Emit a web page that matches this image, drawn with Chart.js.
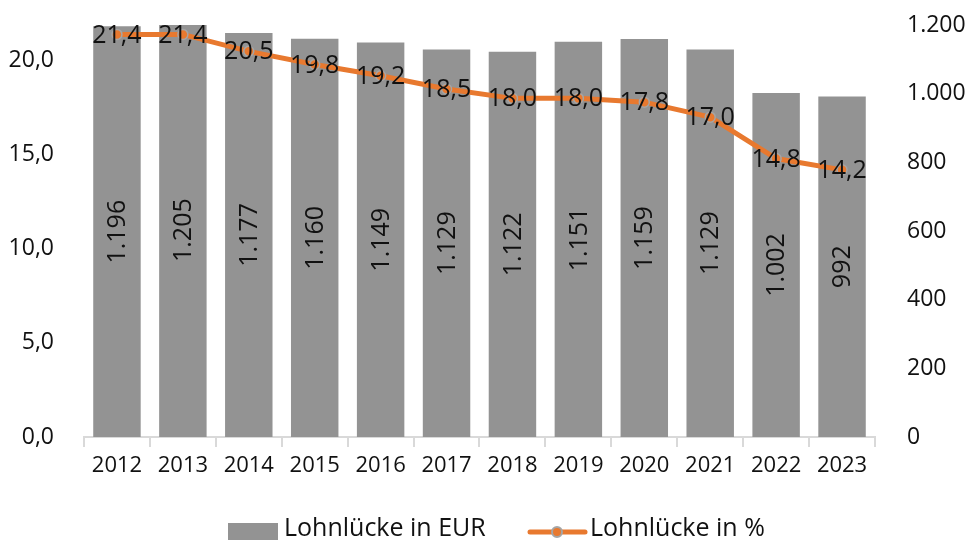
<!DOCTYPE html>
<html>
<head>
<meta charset="utf-8">
<script src="https://cdn.jsdelivr.net/npm/chart.js@4.4.1/dist/chart.umd.min.js"></script>
<style>
  html, body { margin: 0; padding: 0; background: #fff; }
  #wrap { width: 966px; height: 542px; }
</style>
</head>
<body>
<div id="wrap"><canvas id="chart" width="966" height="542"></canvas></div>
<script>
const years = ['2012', '2013', '2014', '2015', '2016', '2017', '2018', '2019', '2020', '2021', '2022', '2023'];
const gapEur = [1196, 1205, 1177, 1160, 1149, 1129, 1122, 1151, 1159, 1129, 1002, 992];
const gapPct = [21.4, 21.4, 20.5, 19.8, 19.2, 18.5, 18.0, 18.0, 17.8, 17.0, 14.8, 14.2];
const pctTicks = [0, 5, 10, 15, 20];
const eurTicks = [0, 200, 400, 600, 800, 1000, 1200];

const FONT = '"Open Sans", sans-serif';
const ORANGE = '#E8792F';
const GREY = '#939393';

const fmtPct = v => v.toFixed(1).replace('.', ',');
const fmtEur = v => v.toString().replace(/\B(?=(\d{3})+(?!\d))/g, '.');

// labels on bars (rotated) and on line points
const labelPlugin = {
    id: 'labels',
    afterDatasetsDraw(chart) {
        const ctx = chart.ctx;
        ctx.save();
        ctx.font = '25px ' + FONT;
        ctx.fillStyle = '#111';
        ctx.textAlign = 'center';
        ctx.textBaseline = 'middle';
        chart.getDatasetMeta(1).data.forEach((bar, i) => {
            const y = (bar.y + bar.base) / 2;
            ctx.save();
            ctx.translate(bar.x, y);
            ctx.rotate(-Math.PI / 2);
            ctx.fillText(fmtEur(gapEur[i]), 0, 1);
            ctx.restore();
        });
        chart.getDatasetMeta(0).data.forEach((pt, i) => {
            ctx.fillText(fmtPct(gapPct[i]), pt.x, pt.y + 1);
        });
        ctx.restore();
    }
};

// legend drawn at the bottom like the original
const legendPlugin = {
    id: 'bottomLegend',
    afterDraw(chart) {
        const ctx = chart.ctx;
        const y = 529;
        ctx.save();
        ctx.font = '25px ' + FONT;
        ctx.fillStyle = GREY;
        ctx.fillRect(228, 523, 50, 17);
        ctx.fillStyle = '#111';
        ctx.textBaseline = 'middle';
        ctx.fillText('Lohnlücke in EUR', 284, y);
        ctx.strokeStyle = ORANGE;
        ctx.lineWidth = 5;
        ctx.lineCap = 'round';
        ctx.beginPath();
        ctx.moveTo(530, y + 3);
        ctx.lineTo(585, y + 3);
        ctx.stroke();
        ctx.beginPath();
        ctx.arc(557, y + 3, 5, 0, Math.PI * 2);
        ctx.fillStyle = ORANGE;
        ctx.fill();
        ctx.lineWidth = 2;
        ctx.strokeStyle = '#A5A5A5';
        ctx.stroke();
        ctx.fillStyle = '#111';
        ctx.fillText('Lohnlücke in %', 590, y);
        ctx.restore();
    }
};

const noPad = s => { s.paddingTop = 0; s.paddingBottom = 0; };

new Chart(document.getElementById('chart').getContext('2d'), {
    type: 'bar',
    data: {
        labels: years,
        datasets: [
            { type: 'line', label: 'Lohnlücke in %', data: gapPct, yAxisID: 'yPct', borderColor: ORANGE, borderWidth: 5, backgroundColor: ORANGE, pointRadius: 5, pointBorderColor: '#A5A5A5', pointBorderWidth: 1.5, pointBackgroundColor: ORANGE, tension: 0, order: 0 },
            { type: 'bar', label: 'Lohnlücke in EUR', data: gapEur, yAxisID: 'yEur', backgroundColor: GREY, barPercentage: 0.72, categoryPercentage: 1, order: 1 }
        ]
    },
    options: {
        responsive: false,
        animation: false,
        layout: { padding: { top: 25, left: 0, right: 0, bottom: 0 } },
        plugins: { legend: { display: false }, tooltip: { enabled: false } },
        scales: {
            x: {
                offset: true,
                grid: { offset: true, drawOnChartArea: false, color: '#d9d9d9', lineWidth: 2, tickLength: 10 },
                border: { color: '#d9d9d9', width: 2 },
                ticks: { color: '#111', font: { family: FONT, size: 22 }, padding: 6, maxRotation: 0 },
                afterFit(s) { s.height = 105; s.paddingLeft = 0; s.paddingRight = 0; }
            },
            yPct: {
                position: 'left',
                min: 0, max: 21.9,
                grid: { display: false },
                border: { display: false },
                afterBuildTicks(s) { s.ticks = pctTicks.map(v => ({ value: v })); },
                ticks: { color: '#111', font: { family: FONT, size: 23 }, padding: 22, callback: v => fmtPct(v) },
                afterFit(s) { s.width = 84; noPad(s); }
            },
            yEur: {
                position: 'right',
                min: 0, max: 1200,
                grid: { display: false },
                border: { display: false },
                afterBuildTicks(s) { s.ticks = eurTicks.map(v => ({ value: v })); },
                ticks: { color: '#111', font: { family: FONT, size: 23 }, padding: 24, callback: v => fmtEur(v) },
                afterFit(s) { s.width = 91; noPad(s); }
            }
        }
    },
    plugins: [labelPlugin, legendPlugin]
});
</script>
</body>
</html>
